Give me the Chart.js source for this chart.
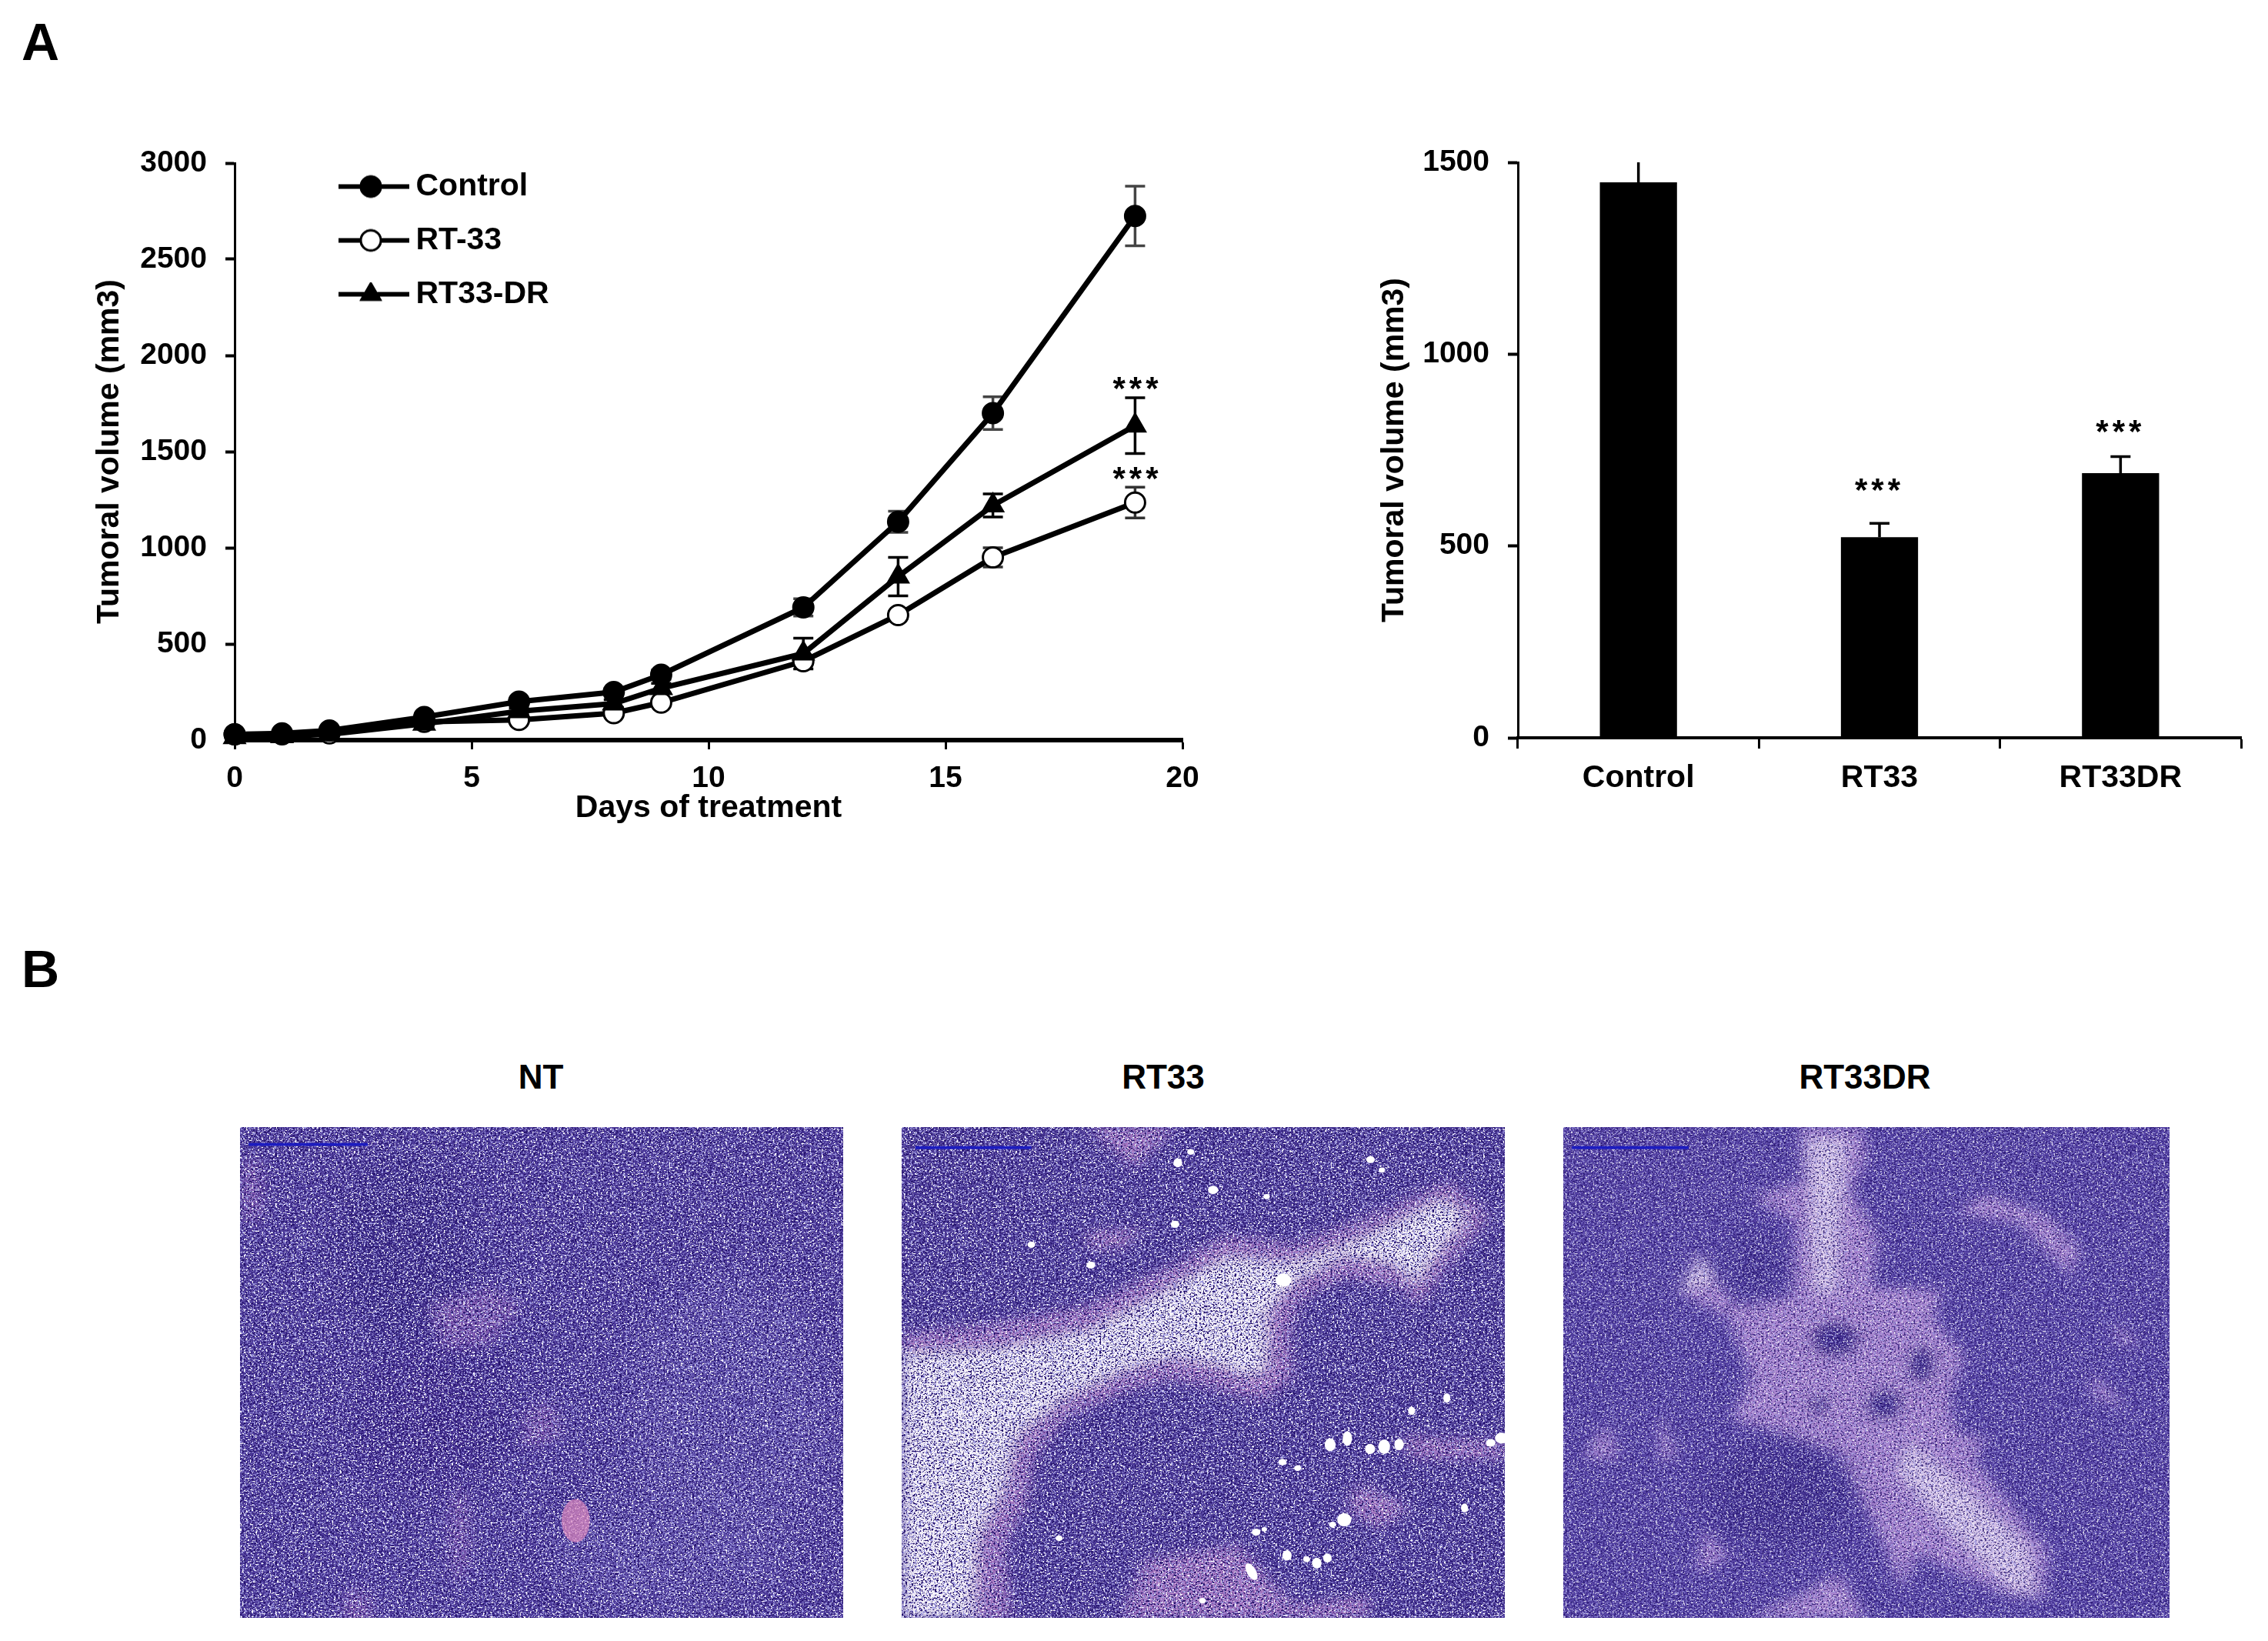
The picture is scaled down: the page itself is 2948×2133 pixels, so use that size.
<!DOCTYPE html>
<html>
<head>
<meta charset="utf-8">
<title>Tumoral volume</title>
<script src="https://cdn.jsdelivr.net/npm/chart.js@4"></script>
<style>
html, body { margin: 0; background: #fff; }
body { position: relative; width: 2948px; height: 2133px; overflow: hidden; font-family: "Liberation Sans", Arial, sans-serif; font-weight: bold; color: #000; }
canvas, svg.panel, .lbl { position: absolute; }
.letter { font-size: 68px; line-height: 68px; }
.cap { font-size: 44px; line-height: 44px; transform: translateX(-50%); white-space: nowrap; top: 1378px; }
</style>
</head>
<body>
<div class="lbl letter" style="left:28px;top:20px">A</div>
<div class="lbl letter" style="left:28px;top:1225px">B</div>
<canvas id="myChart1" width="1600" height="950" style="left:0;top:150px"></canvas>
<canvas id="myChart2" width="1198" height="950" style="left:1750px;top:150px"></canvas>

<div class="lbl cap" style="left:703px">NT</div>
<div class="lbl cap" style="left:1512px">RT33</div>
<div class="lbl cap" style="left:2424px">RT33DR</div>

<!-- histology photos approximated with svg noise -->
<svg width="0" height="0" style="position:absolute">
  <defs>
    <filter id="soft" x="-20%" y="-20%" width="140%" height="140%"><feGaussianBlur stdDeviation="18"/></filter>
    <filter id="soft2" x="-20%" y="-20%" width="140%" height="140%"><feGaussianBlur stdDeviation="45"/></filter>
    <filter id="specWhite" x="0" y="0" width="100%" height="100%" color-interpolation-filters="sRGB">
      <feTurbulence type="fractalNoise" baseFrequency="0.2" numOctaves="2" seed="4"/>
      <feColorMatrix type="matrix" values="0 0 0 0 1  0 0 0 0 1  0 0 0 0 1  12 0 0 0 -7.4"/>
      <feGaussianBlur stdDeviation="0.9"/>
    </filter>
    <filter id="specLav" x="0" y="0" width="100%" height="100%" color-interpolation-filters="sRGB">
      <feTurbulence type="fractalNoise" baseFrequency="0.18" numOctaves="2" seed="11"/>
      <feColorMatrix type="matrix" values="0 0 0 0 .62  0 0 0 0 .6  0 0 0 0 .88  0 9 0 0 -4.7"/>
      <feGaussianBlur stdDeviation="0.9"/>
    </filter>
    <filter id="specDark" x="0" y="0" width="100%" height="100%" color-interpolation-filters="sRGB">
      <feTurbulence type="fractalNoise" baseFrequency="0.2" numOctaves="2" seed="23"/>
      <feColorMatrix type="matrix" values="0 0 0 0 .14  0 0 0 0 .07  0 0 0 0 .42  0 0 -10 0 4.6"/>
      <feGaussianBlur stdDeviation="0.9"/>
    </filter>
    <g id="speckle">
      <rect width="1540" height="1540" filter="url(#specLav)"/>
      <rect width="1540" height="1540" filter="url(#specDark)"/>
      <rect width="1540" height="1540" filter="url(#specWhite)"/>
    </g>
  </defs>
</svg>

<svg class="panel" style="left:312px;top:1465px" width="784" height="638" viewBox="0 0 1540 1540" preserveAspectRatio="none">
  <rect width="1540" height="1540" fill="#4d3a9a"/>
  <g filter="url(#soft2)" opacity=".55">
    <ellipse cx="420" cy="380" rx="180" ry="300" fill="#33207e"/>
    <ellipse cx="500" cy="900" rx="220" ry="260" fill="#3a2486"/>
    <ellipse cx="1250" cy="900" rx="260" ry="420" fill="#6a5ab4"/>
    <ellipse cx="1100" cy="1350" rx="300" ry="160" fill="#6a5ab4"/>
  </g>
  <g filter="url(#soft)" fill="#8a5fb4" opacity=".8">
    <path d="M480,560 L640,500 L720,560 L640,680 L520,700 Z"/>
    <path d="M720,900 L800,860 L820,970 L730,1010 Z"/>
    <ellipse cx="30" cy="200" rx="30" ry="110"/>
    <ellipse cx="560" cy="1280" rx="25" ry="150"/>
    <ellipse cx="300" cy="1510" rx="40" ry="60"/>
  </g>
  <use href="#speckle"/>
  <ellipse cx="857" cy="1235" rx="36" ry="68" fill="#e08cc0" opacity=".7"/>
  <rect x="22" y="50" width="304" height="9" fill="#1c1cc0"/>
</svg>

<svg class="panel" style="left:1172px;top:1465px" width="784" height="638" viewBox="0 0 1540 1540" preserveAspectRatio="none">
  <rect width="1540" height="1540" fill="#4a3896"/>
  <g filter="url(#soft)">
    <g fill="#a474c0">
      <path d="M0,650 L230,620 L480,560 L700,430 L830,340 L1000,370 L1180,290 L1400,170 L1500,280 L1400,430 L1320,560 L1270,500 L1130,470 L1020,540 L990,640 L1000,790 L920,860 L800,820 L700,790 L590,820 L430,900 L340,1030 L320,1170 L260,1320 L280,1540 L0,1540 Z"/>
      <path d="M480,0 L700,0 L590,130 Z"/>
      <path d="M470,330 L620,320 L560,380 L480,380 Z"/>
      <path d="M1280,970 L1540,990 L1540,1040 L1300,1040 Z"/>
      <path d="M1160,1120 L1300,1190 L1220,1260 L1140,1200 Z"/>
      <path d="M560,1540 L620,1360 L860,1310 L1000,1500 L1200,1470 L1180,1540 Z"/>
    </g>
    <path fill="#f4f0f8" d="M0,710 L230,700 L480,640 L700,500 L830,410 L1000,430 L1180,350 L1380,230 L1440,280 L1360,400 L1310,490 L1270,430 L1130,400 L1000,480 L930,580 L930,750 L900,780 L800,740 L700,720 L590,750 L420,840 L290,970 L260,1130 L190,1290 L180,1540 L0,1540 Z"/>
  </g>
  <use href="#speckle"/>
  <g fill="#fff">
    <ellipse cx="705" cy="112" rx="11" ry="14"/><circle cx="738" cy="78" r="9"/><circle cx="795" cy="197" r="13"/>
    <circle cx="698" cy="305" r="11"/><circle cx="331" cy="369" r="10"/><circle cx="483" cy="433" r="11"/>
    <circle cx="1197" cy="102" r="11"/><circle cx="1226" cy="135" r="8"/><circle cx="932" cy="218" r="8"/>
    <circle cx="975" cy="480" r="20"/><ellipse cx="1392" cy="850" rx="9" ry="15"/><ellipse cx="1302" cy="890" rx="9" ry="13"/>
    <ellipse cx="1094" cy="997" rx="14" ry="20"/><ellipse cx="1138" cy="977" rx="12" ry="23"/><ellipse cx="1196" cy="1010" rx="13" ry="16"/>
    <ellipse cx="1232" cy="1003" rx="15" ry="23"/><ellipse cx="1270" cy="996" rx="12" ry="18"/><circle cx="972" cy="1051" r="10"/>
    <circle cx="1011" cy="1070" r="9"/><circle cx="1504" cy="991" r="12"/><circle cx="1532" cy="976" r="17"/>
    <ellipse cx="1130" cy="1232" rx="18" ry="21"/><circle cx="1100" cy="1247" r="9"/><circle cx="905" cy="1271" r="11"/><circle cx="926" cy="1262" r="7"/>
    <ellipse cx="984" cy="1344" rx="12" ry="16"/><circle cx="1034" cy="1356" r="9"/><ellipse cx="1060" cy="1368" rx="12" ry="17"/><ellipse cx="1087" cy="1352" rx="11" ry="14"/>
    <ellipse cx="893" cy="1395" rx="12" ry="28" transform="rotate(-22 893 1395)"/><circle cx="402" cy="1290" r="9"/><ellipse cx="1437" cy="1195" rx="9" ry="14"/><circle cx="768" cy="1486" r="9"/>
  </g>
  <rect x="35" y="60" width="296" height="9" fill="#1c1cc0"/>
</svg>

<svg class="panel" style="left:2032px;top:1465px" width="788" height="638" viewBox="0 0 1540 1540" preserveAspectRatio="none">
  <rect width="1540" height="1540" fill="#5340a2"/>
  <g filter="url(#soft)">
    <g fill="#a985cf">
      <path d="M600,0 L760,0 L770,100 L730,200 L800,350 L780,500 L960,510 L940,600 L1020,720 L980,860 L1000,960 L1080,980 L1040,1040 L1230,1330 L1220,1480 L1130,1470 L900,1340 L860,1450 L810,1300 L770,1200 L700,1030 L520,950 L430,920 L480,780 L420,600 L300,520 L340,390 L440,560 L580,530 L590,300 L480,220 L610,170 Z"/>
      <path d="M1070,210 L1230,280 L1310,380 L1290,470 L1160,300 L1000,270 Z"/>
      <path d="M700,1400 L770,1540 L470,1540 L600,1470 Z"/>
      <path d="M110,930 L140,1040 L50,1040 Z"/>
      <path d="M360,1260 L420,1350 L340,1400 Z"/>
      <path d="M1400,620 L1470,690 L1400,670 Z"/>
      <path d="M1340,770 L1430,880 L1350,850 Z"/>
      <path d="M240,900 L290,1030 L250,1050 Z"/>
    </g>
    <g fill="#d9c8ea">
      <path d="M620,40 L720,40 L700,300 L690,520 L640,520 L630,300 Z"/>
      <path d="M350,400 L390,480 L290,520 Z"/>
      <path d="M880,990 L990,1100 L1180,1320 L1200,1470 L1130,1440 L960,1240 L850,1080 Z"/>
    </g>
    <g fill="#3c2a8c">
      <ellipse cx="690" cy="665" rx="62" ry="55"/>
      <ellipse cx="910" cy="745" rx="34" ry="60"/>
      <ellipse cx="815" cy="870" rx="48" ry="48"/>
      <ellipse cx="650" cy="870" rx="26" ry="30"/>
    </g>
  </g>
  <g filter="url(#soft2)" opacity=".5" fill="#33207e">
    <ellipse cx="550" cy="1150" rx="190" ry="170"/>
    <ellipse cx="490" cy="440" rx="60" ry="110"/>
  </g>
  <use href="#speckle" opacity=".75"/>
  <rect x="22" y="60" width="296" height="9" fill="#1c1cc0"/>
</svg>

<script>
var days = [0, 1, 2, 4, 6, 8, 9, 12, 14, 16, 19];
var controlVals = [30, 35, 50, 120, 200, 250, 340, 690, 1135, 1700, 2725];
var rt33Vals = [30, 30, 35, 95, 105, 140, 195, 410, 650, 950, 1235];
var drVals = [15, 20, 30, 85, 150, 190, 270, 450, 850, 1220, 1635];
var controlErr = [5, 5, 8, 15, 15, 20, 25, 45, 55, 85, 155];
var rt33Err = [5, 5, 5, 10, 10, 15, 15, 15, 20, 50, 80];
var drErr = [5, 5, 5, 15, 15, 20, 25, 80, 100, 60, 145];
var lineNames = ['Control', 'RT-33', 'RT33-DR'];
var lineStars = [[19.05, 1842], [19.05, 1376]];
var yTicks1 = [0, 500, 1000, 1500, 2000, 2500, 3000];

var groups = ['Control', 'RT33', 'RT33DR'];
var barVals = [1448, 523, 690];
var barErr = [70, 36, 43];
var barStars = [null, 652, 806];
var yTicks2 = [0, 500, 1000, 1500];

Chart.defaults.font.family = '"Liberation Sans", Arial, sans-serif';
Chart.defaults.font.size = 39;
Chart.defaults.font.weight = 'bold';
Chart.defaults.color = '#000';

function xy(vals) {
  return vals.map(function (v, i) { return { x: days[i], y: v }; });
}

function plainTick(v) { return String(v); }

// little canvas with line and marker for the legend
function legendSwatch(style, fill, radius) {
  var c = document.createElement('canvas');
  c.width = 92; c.height = 32;
  var g = c.getContext('2d');
  g.strokeStyle = '#000';
  g.lineWidth = 6;
  g.beginPath(); g.moveTo(0, 16); g.lineTo(92, 16); g.stroke();
  g.fillStyle = fill;
  g.lineWidth = 3;
  Chart.helpers.drawPoint(g, { pointStyle: style, radius: radius, borderWidth: 3 }, 42, 16);
  g.fill(); g.stroke();
  return c;
}

var stderrPlugin = {
  id: 'errbars',
  beforeDatasetsDraw: function (chart) {
    var g = chart.ctx, y = chart.scales.y;
    var a = chart.chartArea;
    g.save();
    g.beginPath(); g.rect(0, a.top, chart.width, chart.height - a.top); g.clip();
    chart.data.datasets.forEach(function (d, di) {
      if (!d.errs) return;
      g.strokeStyle = d.errColor || '#000';
      g.lineWidth = 3.5;
      d.data.forEach(function (p, i) {
        var val = p.y === undefined ? p : p.y;
        var px = chart.getDatasetMeta(di).data[i].x;
        var top = y.getPixelForValue(val + d.errs[i]);
        var bot = y.getPixelForValue(d.upOnly ? val : val - d.errs[i]);
        g.beginPath();
        g.moveTo(px, top); g.lineTo(px, bot);
        g.moveTo(px - 13, top); g.lineTo(px + 13, top);
        if (!d.upOnly) { g.moveTo(px - 13, bot); g.lineTo(px + 13, bot); }
        g.stroke();
      });
    });
    g.restore();
  }
};

var starsPlugin = {
  id: 'stars',
  afterDatasetsDraw: function (chart) {
    var g = chart.ctx, x = chart.scales.x, y = chart.scales.y;
    var pts = chart.options.plugins.stars.points;
    g.save();
    g.fillStyle = '#000';
    g.font = 'bold 42px "Liberation Sans"';
    g.letterSpacing = '5px';
    g.textAlign = 'center';
    g.textBaseline = 'middle';
    pts.forEach(function (p) {
      g.fillText('***', x.getPixelForValue(p[0]), y.getPixelForValue(p[1]) + 6);
    });
    g.restore();
  }
};

var moveLegend = {
  id: 'moveLegend',
  beforeDraw: function (chart) {
    var l = chart.legend;
    if (!l || !l.options.display) return;
    l.left = 423; l.top = 43; l.right = 1000; l.bottom = 400;
  }
};

var ctx = document.getElementById('myChart1').getContext('2d');
var ctx2 = document.getElementById('myChart2').getContext('2d');

var chart = new Chart(ctx, {
  type: 'line',
  data: {
    datasets: [
      { label: lineNames[0], data: xy(controlVals), errs: controlErr, errColor: '#444', order: 0,
        borderColor: '#000', backgroundColor: '#000', pointStyle: 'circle', pointRadius: 13 },
      { label: lineNames[1], data: xy(rt33Vals), errs: rt33Err, errColor: '#333', order: 2,
        borderColor: '#000', backgroundColor: '#fff', pointStyle: 'circle', pointRadius: 13 },
      { label: lineNames[2], data: xy(drVals), errs: drErr, order: 1,
        borderColor: '#000', backgroundColor: '#000', pointStyle: 'triangle', pointRadius: 15 }
    ]
  },
  options: {
    responsive: false,
    animation: false,
    devicePixelRatio: 1,
    clip: false,
    layout: { padding: { top: 62, right: 63 } },
    datasets: { line: { borderWidth: 7, pointBorderWidth: 3, pointBorderColor: '#000', tension: 0, clip: false } },
    scales: {
      x: {
        type: 'linear', min: 0, max: 20,
        afterFit: function (s) { s.height = 138; },
        border: { color: '#000', width: 6 },
        grid: { drawOnChartArea: false, tickColor: '#000', tickWidth: 3, tickLength: 12 },
        ticks: { stepSize: 5, padding: 15, maxRotation: 0 },
        title: { display: true, text: 'Days of treatment', font: { size: 41, weight: 'bold' }, padding: { top: 0, bottom: 25 } }
      },
      y: {
        min: 0, max: 3000,
        afterFit: function (s) { s.width = 305; },
        afterBuildTicks: function (s) { s.ticks = yTicks1.map(function (v) { return { value: v }; }); },
        border: { color: '#000', width: 3 },
        grid: { drawOnChartArea: false, tickColor: '#000', tickWidth: 4, tickLength: 12 },
        ticks: { padding: 24, callback: plainTick },
        title: { display: true, text: 'Tumoral volume (mm3)', font: { size: 41, weight: 'bold' }, padding: { top: 118, bottom: 0 } }
      }
    },
    plugins: {
      legend: {
        position: 'chartArea', align: 'start',
        labels: {
          usePointStyle: true, pointStyleWidth: 68, padding: 29,
          font: { size: 41, weight: 'bold' },
          generateLabels: function () {
            return [
              { text: lineNames[0], pointStyle: legendSwatch('circle', '#000', 13), fontColor: '#000', datasetIndex: 0, lineWidth: 0 },
              { text: lineNames[1], pointStyle: legendSwatch('circle', '#fff', 13), fontColor: '#000', datasetIndex: 1, lineWidth: 0 },
              { text: lineNames[2], pointStyle: legendSwatch('triangle', '#000', 14), fontColor: '#000', datasetIndex: 2, lineWidth: 0 }
            ];
          }
        }
      },
      tooltip: { enabled: false },
      stars: { points: lineStars }
    }
  },
  plugins: [stderrPlugin, starsPlugin, moveLegend]
});

var chart2 = new Chart(ctx2, {
  type: 'bar',
  data: {
    labels: groups,
    datasets: [{ label: 'Tumoral volume', data: barVals, errs: barErr, upOnly: true, backgroundColor: '#000',
      barPercentage: 1, categoryPercentage: 0.32 }]
  },
  options: {
    responsive: false,
    animation: false,
    devicePixelRatio: 1,
    layout: { padding: { top: 61, right: 35 } },
    scales: {
      x: {
        afterFit: function (s) { s.height = 141; },
        border: { color: '#000', width: 4 },
        grid: { drawOnChartArea: false, tickColor: '#000', tickWidth: 3, tickLength: 14 },
        ticks: { padding: 14, maxRotation: 0, font: { size: 41, weight: 'bold' } }
      },
      y: {
        min: 0, max: 1500,
        afterFit: function (s) { s.width = 223; },
        afterBuildTicks: function (s) { s.ticks = yTicks2.map(function (v) { return { value: v }; }); },
        border: { color: '#000', width: 3 },
        grid: { drawOnChartArea: false, tickColor: '#000', tickWidth: 4, tickLength: 13 },
        ticks: { padding: 24, callback: plainTick },
        title: { display: true, text: 'Tumoral volume (mm3)', font: { size: 41, weight: 'bold' }, padding: { top: 38, bottom: 0 } }
      }
    },
    plugins: {
      legend: { display: false },
      tooltip: { enabled: false },
      stars: { points: barStars.map(function (v, i) { return v === null ? null : [i, v]; }).filter(Boolean) }
    }
  },
  plugins: [stderrPlugin, starsPlugin]
});
</script>
</body>
</html>
